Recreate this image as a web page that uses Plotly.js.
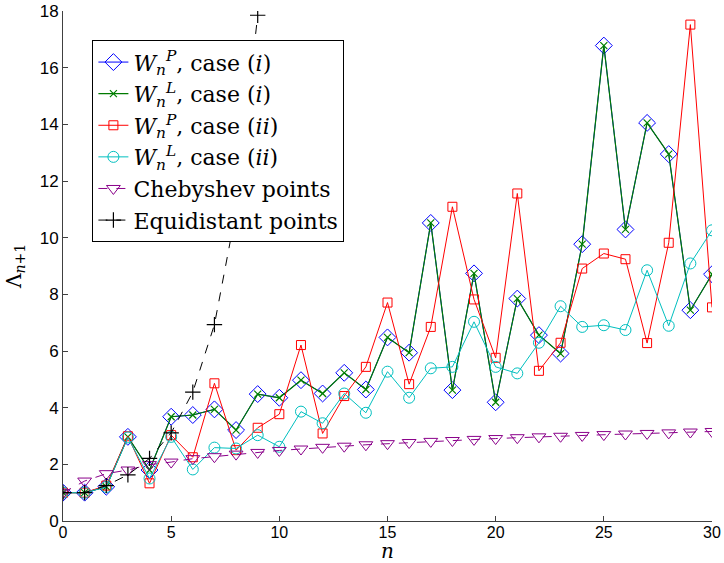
<!DOCTYPE html>
<html>
<head>
<meta charset="utf-8">
<script src="https://cdn.plot.ly/plotly-3.0.1.min.js"></script>
<style>html,body{margin:0;padding:0;background:#fff;}#chart{width:724px;height:563px;}</style>
</head>
<body>
<div id="chart"></div>
<script>
const nAll = [0,1,2,3,4,5,6,7,8,9,10,11,12,13,14,15,16,17,18,19,20,21,22,23,24,25,26,27,28,29,30];
const wpCase1 = [1.0,1.0,1.21,2.97,1.8,3.68,3.74,3.94,3.21,4.48,4.35,4.97,4.5,5.23,4.64,6.48,5.94,10.52,4.62,8.74,4.19,7.85,6.56,5.91,9.77,16.78,10.29,14.05,12.95,7.44,8.71];
const wlCase1 = [1.0,1.0,1.21,2.97,1.8,3.68,3.74,3.94,3.21,4.48,4.35,4.97,4.5,5.23,4.64,6.48,5.94,10.52,4.62,8.74,4.19,7.85,6.56,5.91,9.77,16.78,10.29,14.05,12.95,7.44,8.71];
const wpCase2 = [1.0,1.0,1.25,2.99,1.33,3.03,2.25,4.86,2.5,3.29,3.77,6.21,3.09,4.41,5.44,7.71,4.83,6.85,11.09,7.82,5.76,11.56,5.3,6.29,8.91,9.44,9.24,6.28,9.82,17.52,7.54];
const wlCase2 = [1.0,1.0,1.2,2.95,1.5,2.97,1.82,2.59,2.56,3.03,2.62,3.86,3.45,4.5,3.82,5.27,4.35,5.39,5.44,7.03,5.44,5.21,6.29,7.58,6.85,6.91,6.74,8.85,6.89,9.09,10.26];
const cheb = [1.0,1.41,1.67,1.8,1.99,2.08,2.2,2.27,2.36,2.42,2.49,2.54,2.6,2.64,2.69,2.73,2.77,2.81,2.84,2.88,2.91,2.94,2.97,2.99,3.02,3.05,3.07,3.09,3.11,3.14,3.16];
const nEqui = [0,1,2,3,4,5,6,7,8,9];
const equi = [1.0,1.0,1.25,1.63,2.21,3.11,4.55,6.93,10.95,17.85];
const xTicks = [0,5,10,15,20,25,30];
const yTicks = [0,2,4,6,8,10,12,14,16,18];
const names = [
  "<i>W</i><sub><i>n</i></sub><sup><i>P</i></sup>, case (<i>i</i>)",
  "<i>W</i><sub><i>n</i></sub><sup><i>L</i></sup>, case (<i>i</i>)",
  "<i>W</i><sub><i>n</i></sub><sup><i>P</i></sup>, case (<i>ii</i>)",
  "<i>W</i><sub><i>n</i></sub><sup><i>L</i></sup>, case (<i>ii</i>)",
  "Chebyshev points",
  "Equidistant points"
];
const SERIF = 'DejaVu Serif';
const SANS = 'Arial';

const traces = [
  {x:nAll,y:wpCase1,name:names[0],mode:'lines+markers',line:{color:'#0000ff',width:1},
   marker:{symbol:'diamond-open',size:13,color:'#0000ff',line:{width:1}}},
  {x:nAll,y:wlCase1,name:names[1],mode:'lines+markers',line:{color:'#007a00',width:1.2},
   marker:{symbol:'x-thin-open',size:7,color:'#008000',line:{width:1.2,color:'#008000'}}},
  {x:nAll,y:wpCase2,name:names[2],mode:'lines+markers',line:{color:'#ff0000',width:1},
   marker:{symbol:'square-open',size:9,color:'#ff0000',line:{width:1}}},
  {x:nAll,y:wlCase2,name:names[3],mode:'lines+markers',line:{color:'#00bfbf',width:1},
   marker:{symbol:'circle-open',size:11,color:'#00bfbf',line:{width:1}}},
  {x:nAll,y:cheb,name:names[4],mode:'lines+markers',line:{color:'#8a008a',width:1,dash:'dash'},
   marker:{symbol:'triangle-down-open',size:12,color:'#8a008a',line:{width:1}}},
  {x:nEqui,y:equi,name:names[5],mode:'lines+markers',line:{color:'#000000',width:1,dash:'dash'},
   marker:{symbol:'cross-thin-open',size:11,color:'#000000',line:{width:1.2,color:'#000000'}}}
];

const layout = {
  width:724,height:563,
  margin:{l:63,r:12,t:11,b:42},
  paper_bgcolor:'#fff',plot_bgcolor:'#fff',
  showlegend:true,
  legend:{x:0.045,y:0.943,xanchor:'left',yanchor:'top',bgcolor:'#fff',
    bordercolor:'#000',borderwidth:1.2,
    font:{family:SERIF,size:22,color:'#000'},
    tracegroupgap:0},
  xaxis:{range:[0,30],tickvals:xTicks,ticktext:xTicks.map(String),showgrid:false,zeroline:false,
    showline:true,linecolor:'#404040',linewidth:1,ticks:'inside',ticklen:5,tickcolor:'#404040',
    ticklabelstandoff:-3,
    tickfont:{family:SANS,size:16,color:'#000'},
    title:{text:'<i>n</i>',font:{family:SERIF,size:20,color:'#000'},standoff:0}},
  yaxis:{range:[0,18],tickvals:yTicks,ticktext:yTicks.map(String),showgrid:false,zeroline:false,
    showline:true,linecolor:'#404040',linewidth:1,ticks:'inside',ticklen:5,tickcolor:'#404040',
    tickfont:{family:SANS,size:17,color:'#000'},
    title:{text:'Λ<sub><i>n</i>+1</sub>',font:{family:SERIF,size:20,color:'#000'},standoff:12}}
};

Plotly.newPlot('chart',traces,layout,{displayModeBar:false,staticPlot:true});
</script>
</body>
</html>
